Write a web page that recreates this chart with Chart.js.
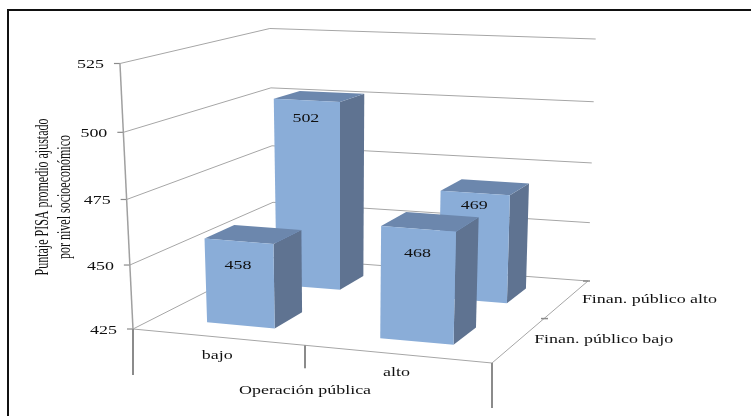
<!DOCTYPE html>
<html lang="es">
<head>
<meta charset="utf-8">
<title>Puntaje PISA</title>
<style>
html,body{margin:0;padding:0;background:#fff}
canvas{display:block}
</style>
<script src="https://cdn.jsdelivr.net/npm/chart.js@4/dist/chart.umd.min.js"></script>
</head>
<body>
<canvas id="c" width="751" height="416"></canvas>
<script>
// Chart values
const categories = ['bajo', 'alto'];
const depthSeries = ['Finan. público bajo', 'Finan. público alto'];
const valuesFinanBajo = [458, 468];
const valuesFinanAlto = [502, 469];
const yTicks = [425, 450, 475, 500, 525];
const yTitleLines = ['Puntaje PISA promedio ajustado', 'por nivel socioeconómico'];
const xTitle = 'Operación pública';

// 3D view: floor corners as [x, y], front-left going round, and wall height above each
const floorQuad = [[133, 329], [492, 363], [588, 281], [274, 257.5]];
const wallHeight = [265.5, 277, 242, 229];
const perspective = 1.05;
const vanishX = 340, lean = 0.063, leanRight = 0.012, leanBack = 0.02;

const colors = {front: '#8aadd8', top: '#6c87ad', side: '#5f7391', grid: '#a6a6a6', axis: '#8b8b8b', wall: '#a0a0a0', text: '#111', frame: '#111'};
const serif = '"Liberation Serif", "Times New Roman", serif';
const TEXT_STRETCH = 1.33;
const BAR_HALF_U = 0.1, BAR_SHIFT_U = 0.007, BAR_FRONT_V = 0.11, BAR_BACK_V = 0.09;
// Distance from a bar's top edge to its value label, per depth row and category
const labelDrop = [[24, 25], [18, 13]];

// Homography from the unit square onto a quadrilateral
function quadMap(q) {
  const [A, B, C, D] = q;
  const dx1 = B[0] - C[0], dy1 = B[1] - C[1], dx2 = D[0] - C[0], dy2 = D[1] - C[1];
  const sx = A[0] - B[0] + C[0] - D[0], sy = A[1] - B[1] + C[1] - D[1];
  const den = dx1 * dy2 - dx2 * dy1;
  const g = (sx * dy2 - dx2 * sy) / den, h = (dx1 * sy - sx * dy1) / den;
  const a = B[0] - A[0] + g * B[0], b = D[0] - A[0] + h * D[0];
  const d = B[1] - A[1] + g * B[1], e = D[1] - A[1] + h * D[1];
  return (u, v) => {
    const k = g * u + h * v + 1;
    return [(a * u + b * v + A[0]) / k, (d * u + e * v + A[1]) / k];
  };
}
const floorAt = quadMap(floorQuad);

// Project (u along categories, v along depth, w up the value axis) to the canvas
function project(u, v, w) {
  const f = floorAt(u, v);
  const H = (1 - u) * (1 - v) * wallHeight[0] + u * (1 - v) * wallHeight[1] + u * v * wallHeight[2] + (1 - u) * v * wallHeight[3];
  const t = w / (w + perspective * (1 - w));
  const k = lean - leanRight * u - leanBack * u * v;
  return [f[0] + (f[0] - vanishX) * k * t, f[1] - H * t];
}

function polygon(ctx, pts, fill) {
  ctx.beginPath();
  pts.forEach((p, i) => i ? ctx.lineTo(p[0], p[1]) : ctx.moveTo(p[0], p[1]));
  ctx.closePath();
  ctx.fillStyle = fill;
  ctx.fill();
}
function line(ctx, a, b, color, width) {
  ctx.beginPath();
  ctx.moveTo(a[0], a[1]);
  ctx.lineTo(b[0], b[1]);
  ctx.strokeStyle = color;
  ctx.lineWidth = width;
  ctx.stroke();
}
// Serif text widened along its baseline, as in the printed figure
function label(ctx, text, x, y, align) {
  ctx.save();
  ctx.translate(x, y);
  ctx.scale(TEXT_STRETCH, 1);
  ctx.font = '13.5px ' + serif;
  ctx.fillStyle = colors.text;
  ctx.textAlign = align || 'center';
  ctx.textBaseline = 'middle';
  ctx.fillText(text, 0, 0);
  ctx.restore();
}

// Normalised positions taken from the chart's own scales
const unitX = (s, v) => (s.getPixelForValue(v) - s.left) / (s.right - s.left);
const unitY = (s, v) => (s.bottom - s.getPixelForValue(v)) / (s.bottom - s.top);

const box3d = {
  id: 'box3d',
  beforeDatasetsDraw(chart) {
    const ctx = chart.ctx, y = chart.scales.y;
    ctx.save();
    ctx.lineCap = 'butt';
    // Walls: one line per tick across the left and back walls
    yTicks.forEach(t => {
      const w = unitY(y, t);
      const a = project(0, 0, w), b = project(0, 1, w), c = project(1, 1, w);
      line(ctx, a, b, colors.grid, 1);
      line(ctx, b, c, colors.grid, 1);
      line(ctx, [a[0] - 6, a[1]], a, colors.axis, 1.2);
      label(ctx, String(t), a[0] - 16, a[1] + 1, 'right');
    });
    line(ctx, project(0, 0, 0), project(0, 0, 1), colors.wall, 1.5);
    // Floor edges with their tick marks
    const A = project(0, 0, 0), B = project(1, 0, 0), C = project(1, 1, 0);
    line(ctx, A, B, colors.grid, 1);
    line(ctx, B, C, colors.grid, 1);
    const mid = project(0.5, 0, 0);
    line(ctx, A, [A[0], A[1] + 46], colors.axis, 2);
    line(ctx, mid, [mid[0], mid[1] + 23], colors.axis, 2);
    line(ctx, B, [B[0], B[1] + 45], colors.axis, 2);
    const depthMid = project(1, 0.5, 0);
    line(ctx, [depthMid[0] - 3, depthMid[1]], [depthMid[0] + 4, depthMid[1]], colors.axis, 1.5);
    line(ctx, [C[0] - 5, C[1]], [C[0] + 2, C[1]], colors.axis, 1.5);
    ctx.restore();
  },
  beforeDatasetDraw(chart, args) {
    const ctx = chart.ctx, s = chart.scales, meta = args.meta, row = args.index;
    const vc = unitX(s.depth, depthSeries[row]);
    const v0 = vc - BAR_FRONT_V, v1 = vc + BAR_BACK_V;
    meta.data.forEach((el, i) => {
      const value = meta._parsed[i].y;
      const uc = unitX(s.x, i) + BAR_SHIFT_U, u0 = uc - BAR_HALF_U, u1 = uc + BAR_HALF_U;
      const w = unitY(s.y, value);
      const p = (u, v, h) => project(u, v, h);
      polygon(ctx, [p(u1, v0, 0), p(u1, v1, 0), p(u1, v1, w), p(u1, v0, w)], colors.side);
      polygon(ctx, [p(u0, v0, w), p(u1, v0, w), p(u1, v1, w), p(u0, v1, w)], colors.top);
      polygon(ctx, [p(u0, v0, 0), p(u1, v0, 0), p(u1, v0, w), p(u0, v0, w)], colors.front);
      const tl = p(u0, v0, w), tr = p(u1, v0, w);
      label(ctx, String(value), (tl[0] + tr[0]) / 2 - 1, (tl[1] + tr[1]) / 2 + labelDrop[row][i]);
    });
    return false;
  },
  afterDatasetsDraw(chart) {
    const ctx = chart.ctx;
    ctx.save();
    // Category names under the front edge and series names beside the depth edge
    categories.forEach((c, i) => {
      const p = project(unitX(chart.scales.x, i), 0, 0);
      label(ctx, c, p[0], p[1] + 18);
    });
    depthSeries.forEach(n => {
      const p = project(1, unitX(chart.scales.depth, n), 0);
      label(ctx, n, p[0] + 15, p[1], 'left');
    });
    const m = project(0.5, 0, 0);
    label(ctx, xTitle, m[0], m[1] + 45);
    // Rotated axis title, widened across its baseline
    yTitleLines.forEach((t, i) => {
      ctx.save();
      ctx.translate(43 + i * 22, 197);
      ctx.rotate(-Math.PI / 2);
      ctx.scale(1, 1.5);
      ctx.font = '12px ' + serif;
      ctx.fillStyle = colors.text;
      ctx.textAlign = 'center';
      ctx.textBaseline = 'middle';
      ctx.fillText(t, 0, 0);
      ctx.restore();
    });
    // Top and left rules of the frame
    ctx.strokeStyle = colors.frame;
    ctx.lineWidth = 2;
    ctx.beginPath();
    ctx.moveTo(8, 416);
    ctx.lineTo(8, 10);
    ctx.lineTo(751, 10);
    ctx.stroke();
    ctx.restore();
  }
};

new Chart(document.getElementById('c'), {
  type: 'bar',
  data: {
    labels: categories,
    datasets: [
      {label: depthSeries[0], data: valuesFinanBajo, backgroundColor: colors.front},
      {label: depthSeries[1], data: valuesFinanAlto, backgroundColor: colors.front}
    ]
  },
  options: {
    responsive: false,
    animation: false,
    layout: {padding: 0},
    plugins: {legend: {display: false}, tooltip: {enabled: false}},
    scales: {
      x: {type: 'category', display: false},
      depth: {type: 'category', axis: 'x', position: 'top', display: false, labels: depthSeries, offset: true},
      y: {type: 'linear', display: false, min: 425, max: 525, ticks: {stepSize: 25}}
    }
  },
  plugins: [box3d]
});
</script>
</body>
</html>
